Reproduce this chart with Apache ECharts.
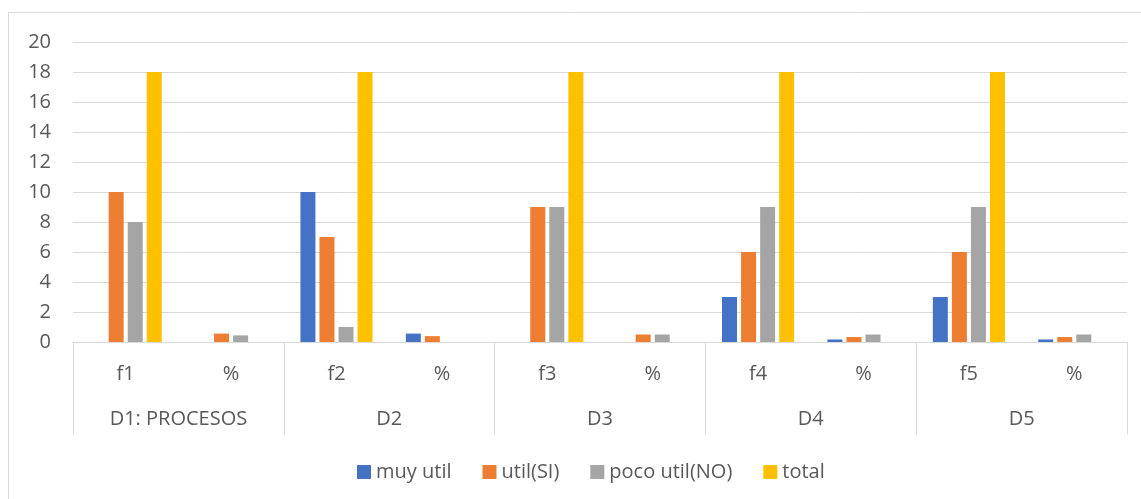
<!DOCTYPE html>
<html>
<head>
<meta charset="utf-8">
<script src="https://cdn.jsdelivr.net/npm/echarts@6/dist/echarts.min.js"></script>
<style>
html,body{margin:0;padding:0;background:#fff;}
#main{width:1141px;height:499px;}
</style>
</head>
<body>
<div id="main"></div>
<script>
// categorías (nivel 1 y nivel 2)
var subCats = ['f1', '%', 'f2', '%', 'f3', '%', 'f4', '%', 'f5', '%'];
var groupCats = ['D1: PROCESOS', 'D2', 'D3', 'D4', 'D5'];
var seriesNames = ['muy util', 'util(SI)', 'poco util(NO)', 'total'];

// valores
var muyUtil = [0, 0, 10, 0.56, 0, 0, 3, 0.17, 3, 0.17];
var utilSi = [10, 0.56, 7, 0.39, 9, 0.5, 6, 0.33, 6, 0.33];
var pocoUtil = [8, 0.44, 1, 0, 9, 0.5, 9, 0.5, 9, 0.5];
var total = [18, null, 18, null, 18, null, 18, null, 18, null];

var yTicks = [0, 20, 2]; // min, max, intervalo

var colors = ['#4472C4', '#ED7D31', '#A5A5A5', '#FFC000'];
var fontFam = '"Open Sans", "Liberation Sans", sans-serif';
var fontSz = 20;
var txtColor = '#595959';
var lineColor = '#d9d9d9';

initPage();

/**
 * dibujar gráfico
 */
function initPage(){
	var myChart = echarts.init(document.getElementById('main'));
	var dataList = [muyUtil, utilSi, pocoUtil, total];
	var series = [];
	for(var i=0;i<seriesNames.length;i++){
		series.push({
			name: seriesNames[i],
			type: 'bar',
			xAxisIndex: 0,
			barWidth: 15,
			barGap: '27%',
			itemStyle: {color: colors[i]},
			data: dataList[i]
		});
	}
	var option = {
		animation: false,
		textStyle: {fontFamily: fontFam},
		graphic: [{
			type: 'rect',
			shape: {x: 8.5, y: 12.5, width: 1200, height: 600},
			style: {fill: 'none', stroke: lineColor, lineWidth: 1},
			silent: true
		}],
		grid: {left: 73, right: 14, top: 42, bottom: 157, outerBoundsMode: 'none'},
		legend: {
			top: 457,
			left: 352,
			icon: 'rect',
			itemWidth: 14,
			itemHeight: 14,
			itemGap: 31,
			textStyle: {color: txtColor, fontSize: fontSz, fontFamily: fontFam},
			data: seriesNames
		},
		xAxis: [{
			type: 'category',
			data: subCats,
			position: 'bottom',
			axisLine: {lineStyle: {color: lineColor, width: 1}},
			axisTick: {show: false},
			axisLabel: {color: txtColor, fontSize: fontSz, margin: 22, interval: 0}
		}, {
			type: 'category',
			data: groupCats,
			position: 'bottom',
			axisLine: {show: false},
			axisTick: {show: true, length: 92, lineStyle: {color: lineColor, width: 1}},
			axisLabel: {color: txtColor, fontSize: fontSz, margin: 67, interval: 0}
		}],
		yAxis: {
			type: 'value',
			min: yTicks[0],
			max: yTicks[1],
			interval: yTicks[2],
			axisLine: {show: false},
			axisTick: {show: false},
			axisLabel: {color: txtColor, fontSize: fontSz, margin: 22},
			splitLine: {lineStyle: {color: lineColor, width: 1}}
		},
		series: series
	};
	myChart.setOption(option);
}
</script>
</body>
</html>
